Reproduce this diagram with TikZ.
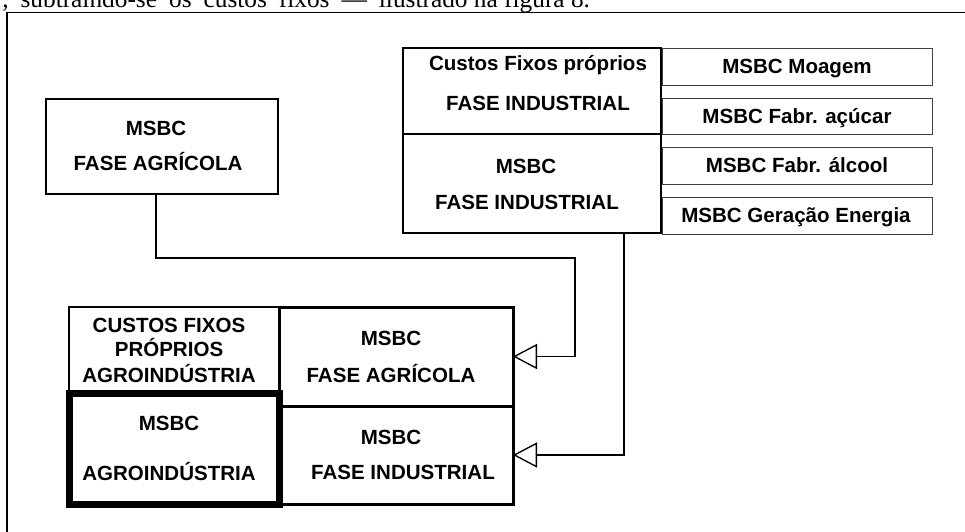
\documentclass[tikz,border=0pt]{standalone}
\usepackage{fontspec}
\setmainfont{Liberation Sans}
\newfontfamily\textoserif{Liberation Serif}
\usepackage{tikz}
\usetikzlibrary{arrows.meta, calc}
\tikzset{
    caixa/.style 2 args={draw, rectangle, inner sep=0pt, outer sep=0pt,
        minimum width=#1, minimum height=#2},
    rotulo/.style={font=\bfseries\fontsize{15.4}{18}\selectfont, inner sep=0pt, anchor=base},
    ligacao/.style={line width=1pt, -{Triangle[open, length=18pt, width=18.75pt, fill=white]}},
}
\newcommand{\espaco}{\hspace{9pt}}

\begin{document}
\begin{tikzpicture}[x=0.75pt, y=-0.75pt]
    \useasboundingbox (0,0) rectangle (965,532);
    \coordinate (K1) at (156, 258);
    \coordinate (K2) at (575, 258);
    \coordinate (K3) at (624, 300);

    % moldura e linha de texto cortada
    \draw[line width=1.1pt] (7,532) |- (965,12.5);
    \node[anchor=base west, inner sep=0pt, font=\textoserif\fontsize{19}{21}\selectfont] (linha) at (2,7)
        {,\espaco subtraindo-se\espaco os\espaco custos\espaco fixos\espaco —\espaco ilustrado na figura 8.};

    % fase agricola
    \node[caixa={174pt}{71.25pt}, line width=2pt] (agri) at (162,146.5) {};
    \node[rotulo] (agri1) at (156,135) {MSBC};
    \node[rotulo] (agri2) at (158,170) {FASE AGRÍCOLA};

    % fase industrial
    \node[caixa={193.5pt}{64.5pt}, line width=1pt] (cfi) at (532,91) {};
    \node[rotulo] (cfi1) at (538,70) {Custos Fixos próprios};
    \node[rotulo] (cfi2) at (538,110) {FASE INDUSTRIAL};
    \node[caixa={193.5pt}{74.25pt}, line width=2pt] (find) at (532,183.5) {};
    \node[rotulo] (find1) at (526,173) {MSBC};
    \node[rotulo] (find2) at (527,209) {FASE INDUSTRIAL};

    \node[caixa={202.5pt}{27.75pt}, line width=0.75pt, draw=black!75] (moag) at (797,66.5) {};
    \node[rotulo] (moag1) at (797,73.5) {MSBC Moagem};
    \node[caixa={202.5pt}{27pt}, line width=0.75pt, draw=black!75] (acuc) at (797,116) {};
    \node[rotulo] (acuc1) at (797,123) {MSBC Fabr. açúcar};
    \node[caixa={202.5pt}{27.75pt}, line width=0.75pt, draw=black!75] (alco) at (797,165.5) {};
    \node[rotulo] (alco1) at (797,172.5) {MSBC Fabr. álcool};
    \node[caixa={202.5pt}{27.75pt}, line width=0.75pt, draw=black!75] (ener) at (797,215.5) {};
    \node[rotulo] (ener1) at (796,222.5) {MSBC Geração Energia};

    % agroindustria
    \node[caixa={157.5pt}{64.5pt}, line width=2pt] (cfa) at (174,350) {};
    \node[rotulo] (cfa1) at (169,332) {CUSTOS FIXOS};
    \node[rotulo] (cfa2) at (169,356) {PRÓPRIOS};
    \node[rotulo] (cfa3) at (169,382) {AGROINDÚSTRIA};
    \node[caixa={175.5pt}{74.25pt}, line width=2.25pt] (fagri) at (396,356.5) {};
    \node[rotulo] (fagri1) at (391,345) {MSBC};
    \node[rotulo] (fagri2) at (391,382) {FASE AGRÍCOLA};
    \node[caixa={175.5pt}{73.5pt}, line width=2.25pt] (find3) at (396,455) {};
    \node[rotulo] (find31) at (391,444) {MSBC};
    \node[rotulo] (find32) at (403,479) {FASE INDUSTRIAL};
    \node[caixa={157.5pt}{83.25pt}, line width=5.25pt] (agro) at (174.5,449) {};
    \node[rotulo] (agro1) at (169,430) {MSBC};
    \node[rotulo] (agro2) at (169,480) {AGROINDÚSTRIA};

    \draw[ligacao] (agri.south -| K1) |- (K2) |- (fagri.east);
    \draw[ligacao] (find.south -| K3) |- (find3.east);
\end{tikzpicture}
\end{document}
